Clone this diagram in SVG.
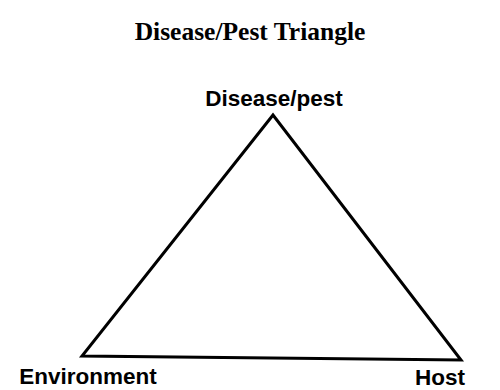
<svg xmlns="http://www.w3.org/2000/svg" width="500" height="390" viewBox="0 0 500 390">
<style>
.title{font-family:"Liberation Serif","Times New Roman",serif;font-weight:bold;font-size:25.5px;fill:#000}
.lbl{font-family:"Liberation Sans",Arial,sans-serif;font-weight:bold;font-size:22.5px;fill:#000}
.edge{stroke:#000;stroke-width:3;fill:none;stroke-linejoin:miter}
</style>
<rect width="500" height="390" fill="#fff"/>
<text class="title" x="250" y="40" text-anchor="middle">Disease/Pest Triangle</text>
<g id="connectors">
<polygon class="edge" points="273,115 82,356 461,360"/>
</g>
<g id="disease"><text class="lbl" x="274" y="106" text-anchor="middle">Disease/pest</text></g>
<g id="environment"><text class="lbl" x="88" y="384" text-anchor="middle">Environment</text></g>
<g id="host"><text class="lbl" x="440" y="385" text-anchor="middle">Host</text></g>
</svg>
